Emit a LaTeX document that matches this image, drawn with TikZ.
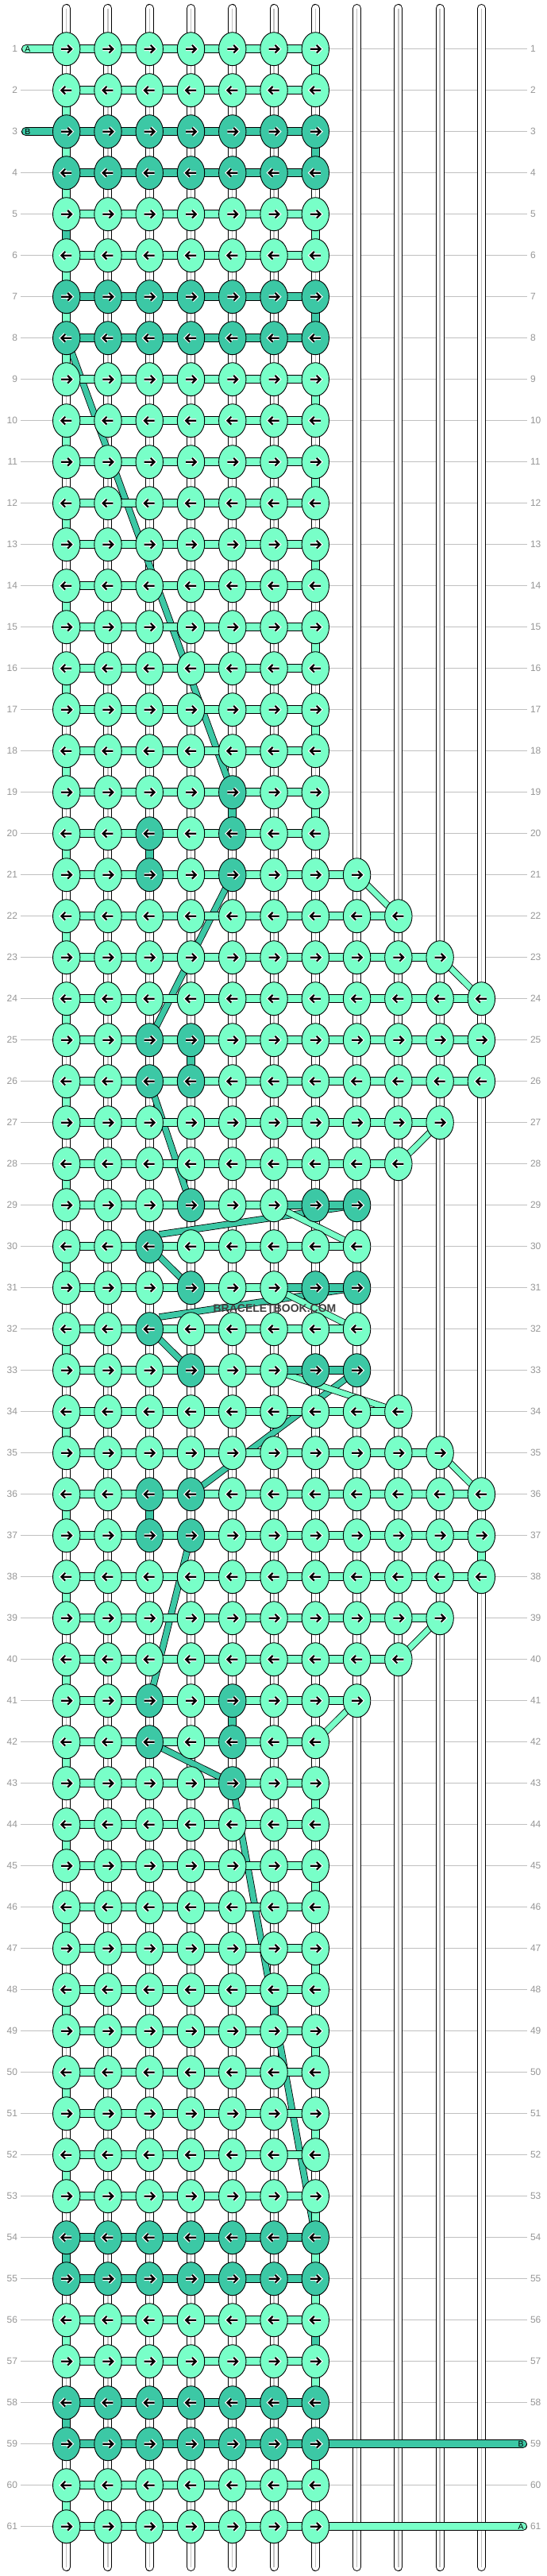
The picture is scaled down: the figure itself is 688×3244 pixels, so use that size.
\documentclass[tikz,border=0pt]{standalone}
\usepackage{fontspec}
\setmainfont{Liberation Sans}
\usetikzlibrary{shapes.geometric}
\definecolor{mintl}{RGB}{120,255,200}
\definecolor{mintd}{RGB}{60,200,165}
\definecolor{rulegray}{RGB}{192,192,192}
\definecolor{numgray}{RGB}{150,150,150}
\pgfdeclarelayer{back}
\pgfdeclarelayer{low}
\pgfdeclarelayer{mid}
\pgfsetlayers{back,low,mid,main}
\newcommand\knotarrow[1]{%
  \foreach \lw/\lc in {4.6pt/white,2.2pt/black}
    \draw[draw=\lc, line width=\lw, shift={(path picture bounding box.center)}]
      ({-6.5pt*(#1)},0pt) -- ({6pt*(#1)},0pt)
      ({1.5pt*(#1)},4.8pt) -- ({6.3pt*(#1)},0pt) -- ({1.5pt*(#1)},-4.8pt);}
\tikzstyle{knot}=[ellipse, draw=black, line width=0.9pt, minimum width=34.4pt, minimum height=42pt, inner sep=0pt]
\tikzset{
  heading/.style={path picture={\knotarrow{#1}}},
  strand/.style={draw=black, line width=1pt, double=#1, double distance=9pt},
  drift/.style={draw=black, line width=0.8pt, double=#1, double distance=7pt},
}
\tikzstyle{warp}=[draw=black, line width=1pt, double=white, double distance=9pt, line cap=round]
\tikzstyle{warpcore}=[draw=rulegray, line width=1.4pt]
\tikzstyle{num}=[text=numgray, font=\fontsize{12}{12}\selectfont, inner sep=0pt, outer sep=4pt]
\tikzstyle{rowline}=[draw=rulegray, line width=1pt]
\tikzstyle{endtag}=[font=\fontsize{10.5}{10.5}\selectfont, inner sep=0pt]
\tikzstyle{stamp}=[font=\bfseries\fontsize{14}{14}\selectfont, text=black!75]

\begin{document}
\begin{tikzpicture}[x=1pt, y=-1pt]
\useasboundingbox (0,0) rectangle (688,3244);
% row numbers and guide lines
\foreach \r in {1,...,61}{
  \pgfmathsetmacro\y{61.7+52*(\r-1)}
  \node[num, anchor=east] (nl\r) at (26,\y) {\r};
  \node[num, anchor=west] (nr\r) at (664,\y) {\r};
  \begin{pgfonlayer}{back}
  \draw[rowline] (nl\r) -- (nr\r);
  \end{pgfonlayer}
}
% warp strings
\foreach \c in {1,...,11}{
  \pgfmathsetmacro\x{83.7+52.27*(\c-1)}
  \coordinate (s\c-top) at (\x,10.5);
  \coordinate (s\c-bot) at (\x,3232.5);
  \begin{pgfonlayer}{back}
  \draw[warp] (s\c-top) -- (s\c-bot);
  \draw[warpcore] (s\c-top) -- (s\c-bot);
  \end{pgfonlayer}
}
% knots, row by row: row / width / dark knots / weft colour
\foreach \r/\w/\dk/\b in {
  1/7/0/mintl, 2/7/0/mintl, 3/7/{1,...,7}/mintd, 4/7/{1,...,7}/mintd,
  5/7/0/mintl, 6/7/0/mintl, 7/7/{1,...,7}/mintd, 8/7/{1,...,7}/mintd,
  9/7/0/mintl, 10/7/0/mintl, 11/7/0/mintl, 12/7/0/mintl, 13/7/0/mintl, 14/7/0/mintl,
  15/7/0/mintl, 16/7/0/mintl, 17/7/0/mintl, 18/7/0/mintl, 19/7/5/mintl, 20/7/{3,5}/mintl,
  21/8/{3,5}/mintl, 22/9/0/mintl, 23/10/0/mintl, 24/11/0/mintl, 25/11/{3,4}/mintl, 26/11/{3,4}/mintl,
  27/10/0/mintl, 28/9/0/mintl, 29/8/{4,7,8}/mintl, 30/8/3/mintl, 31/8/{4,7,8}/mintl, 32/8/3/mintl,
  33/8/{4,7,8}/mintl, 34/9/0/mintl, 35/10/0/mintl, 36/11/{3,4}/mintl, 37/11/{3,4}/mintl, 38/11/0/mintl,
  39/10/0/mintl, 40/9/0/mintl, 41/8/{3,5}/mintl, 42/7/{3,5}/mintl, 43/7/5/mintl,
  44/7/0/mintl, 45/7/0/mintl, 46/7/0/mintl, 47/7/0/mintl, 48/7/0/mintl, 49/7/0/mintl,
  50/7/0/mintl, 51/7/0/mintl, 52/7/0/mintl, 53/7/0/mintl,
  54/7/{1,...,7}/mintd, 55/7/{1,...,7}/mintd, 56/7/0/mintl, 57/7/0/mintl,
  58/7/{1,...,7}/mintd, 59/7/{1,...,7}/mintd, 60/7/0/mintl, 61/7/0/mintl}{
  \pgfmathsetmacro\y{61.7+52*(\r-1)}
  \pgfmathtruncatemacro\hd{1-2*mod(\r+1,2)}
  \foreach \c in {1,...,\w}{
    \pgfmathsetmacro\x{83.7+52.27*(\c-1)}
    \def\kc{mintl}
    \foreach \d in \dk {\ifnum\d=\c \xdef\kc{mintd}\fi}
    \node[knot, fill=\kc, heading=\hd] (k\r-\c) at (\x,\y) {};
  }
  \pgfmathtruncatemacro\wm{\w-1}
  \begin{pgfonlayer}{mid}
  \foreach \c in {1,...,\wm}{
    \pgfmathtruncatemacro\cc{\c+1}
    \draw[strand=\b] (k\r-\c.center) -- (k\r-\cc.center);
  }
  \end{pgfonlayer}
}
\begin{pgfonlayer}{mid}
% B carried across in the motif rows
\foreach \r in {29,31,33}
  \draw[strand=mintd] (k\r-6.center) -- (k\r-8.center);
% weft turning down between rows
\foreach \r in {10,12,...,52}{
  \pgfmathtruncatemacro\rr{\r+1}
  \draw[strand=mintl] (k\r-1.center) -- (k\rr-1.center);
}
\foreach \r/\c/\col in {2/1/mintl, 3/1/mintl, 4/1/mintl, 5/1/mintd, 6/1/mintl, 7/1/mintl, 8/1/mintl,
  54/1/mintd, 56/1/mintl, 58/1/mintd, 60/1/mintl,
  1/7/mintl, 3/7/mintd, 5/7/mintl, 7/7/mintd, 9/7/mintl, 11/7/mintl, 13/7/mintl, 15/7/mintl,
  17/7/mintl, 19/7/mintl, 43/7/mintl, 45/7/mintl, 47/7/mintl, 49/7/mintl, 51/7/mintl, 53/7/mintl,
  54/7/mintl, 55/7/mintl, 56/7/mintd, 57/7/mintl, 59/7/mintl,
  25/11/mintl, 37/11/mintl,
  19/5/mintd, 20/3/mintd, 25/4/mintd, 36/3/mintd, 41/5/mintd, 48/6/mintd}{
  \pgfmathtruncatemacro\rr{\r+1}
  \draw[strand=\col] (k\r-\c.center) -- (k\rr-\c.center);
}
% loose ends A and B
\coordinate (A-in) at (32.5,61.7);
\coordinate (B-in) at (32.5,165.7);
\coordinate (B-out) at (658.5,3077.7);
\coordinate (A-out) at (658.5,3181.7);
\draw[strand=mintl, line cap=round] (A-in) -- (k1-1.center);
\draw[strand=mintd, line cap=round] (B-in) -- (k3-1.center);
\draw[strand=mintd, line cap=round] (k59-7.center) -- (B-out);
\draw[strand=mintl, line cap=round] (k61-7.center) -- (A-out);
\node[endtag] (tA-in) at (35,61.7) {A};
\node[endtag] (tB-in) at (35,165.7) {B};
\node[endtag] (tB-out) at (656,3077.7) {B};
\node[endtag] (tA-out) at (656,3181.7) {A};
\end{pgfonlayer}
\begin{pgfonlayer}{low}
% B floating behind
\draw[drift=mintd] (k8-1.center) -- (k19-5.center);
\draw[drift=mintd] (k21-5.center) -- (k25-3.center);
\draw[drift=mintd] (k26-3.center) -- (k29-4.center);
\foreach \r in {29,31}{
  \pgfmathtruncatemacro\rr{\r+1}
  \pgfmathtruncatemacro\rrr{\r+2}
  \draw[drift=mintd] (k\r-8.center) -- (k\rr-3.north east);
  \draw[drift=mintd] (k\rr-3.center) -- (k\rrr-4.center);
}
\draw[drift=mintd] (k33-8.center) -- (k36-4.center);
\draw[drift=mintd] (k37-4.center) -- (k41-3.center);
\draw[drift=mintd] (k42-3.center) -- (k43-5.center);
\draw[drift=mintd] (k43-5.center) -- (k54-7.center);
% A stepping out and back at the edge
\draw[drift=mintl] (k21-8.center) -- (k22-9.center);
\draw[drift=mintl] (k23-10.center) -- (k24-11.center);
\draw[drift=mintl] (k27-10.center) -- (k28-9.center);
\draw[drift=mintl] (k29-6.center) -- (k30-8.center);
\draw[drift=mintl] (k31-6.center) -- (k32-8.center);
\draw[drift=mintl] (k33-6.center) -- (k34-9.center);
\draw[drift=mintl] (k35-10.center) -- (k36-11.center);
\draw[drift=mintl] (k39-10.center) -- (k40-9.center);
\draw[drift=mintl] (k41-8.center) -- (k42-7.center);
\end{pgfonlayer}
\node[stamp] (wm) at (346,1647.7) {BRACELETBOOK.COM};
\end{tikzpicture}
\end{document}
